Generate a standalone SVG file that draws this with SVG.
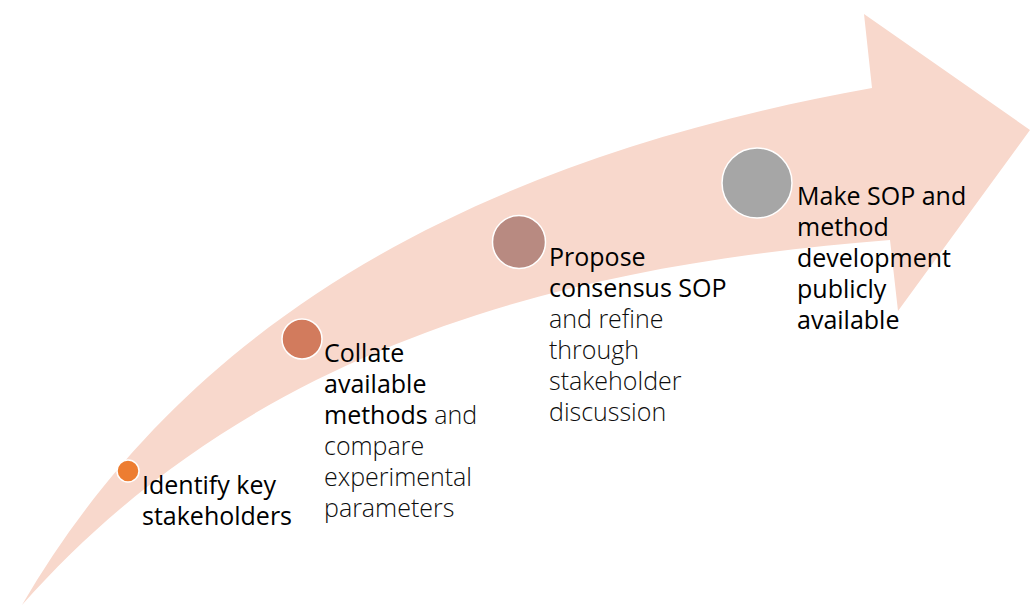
<svg xmlns="http://www.w3.org/2000/svg" width="1035" height="606" viewBox="0 0 1035 606">
  <style>
    text { font-family: "Open Sans", "Liberation Sans", sans-serif; font-size: 25px; fill: #000; }
    .lt { font-weight: 300; fill: #0d0d0d; }
    .dot { stroke: #ffffff; stroke-width: 1.5; }
  </style>
  <rect width="1035" height="606" fill="#ffffff"/>
  <g id="arrow">
    <path d="M22,605 C181,332 455,163 872,88 L864,14 L1030,130 L898,311 L890,240 C575,264.5 256,341 22,605 Z" fill="#F8D8CC"/>
  </g>
  <g id="step1">
    <circle class="dot" cx="128" cy="471" r="11" fill="#ED7D31"/>
    <text x="142" y="494">Identify key<tspan x="142" dy="31">stakeholders</tspan></text>
  </g>
  <g id="step2">
    <circle class="dot" cx="302" cy="339" r="20" fill="#D27B5D"/>
    <text x="324" y="362">Collate<tspan x="324" dy="31">available</tspan><tspan x="324" dy="31">methods</tspan><tspan class="lt"> and</tspan><tspan class="lt" x="324" dy="31">compare</tspan><tspan class="lt" x="324" dy="31">experimental</tspan><tspan class="lt" x="324" dy="31">parameters</tspan></text>
  </g>
  <g id="step3">
    <circle class="dot" cx="519" cy="242" r="26.5" fill="#B88A81"/>
    <text x="549" y="266">Propose<tspan x="549" dy="31">consensus SOP</tspan><tspan class="lt" x="549" dy="31">and refine</tspan><tspan class="lt" x="549" dy="31">through</tspan><tspan class="lt" x="549" dy="31">stakeholder</tspan><tspan class="lt" x="549" dy="31">discussion</tspan></text>
  </g>
  <g id="step4">
    <circle class="dot" cx="757" cy="183" r="35" fill="#A6A6A6"/>
    <text x="797" y="205">Make SOP and<tspan x="797" dy="31">method</tspan><tspan x="797" dy="31">development</tspan><tspan x="797" dy="31">publicly</tspan><tspan x="797" dy="31">available</tspan></text>
  </g>
</svg>
